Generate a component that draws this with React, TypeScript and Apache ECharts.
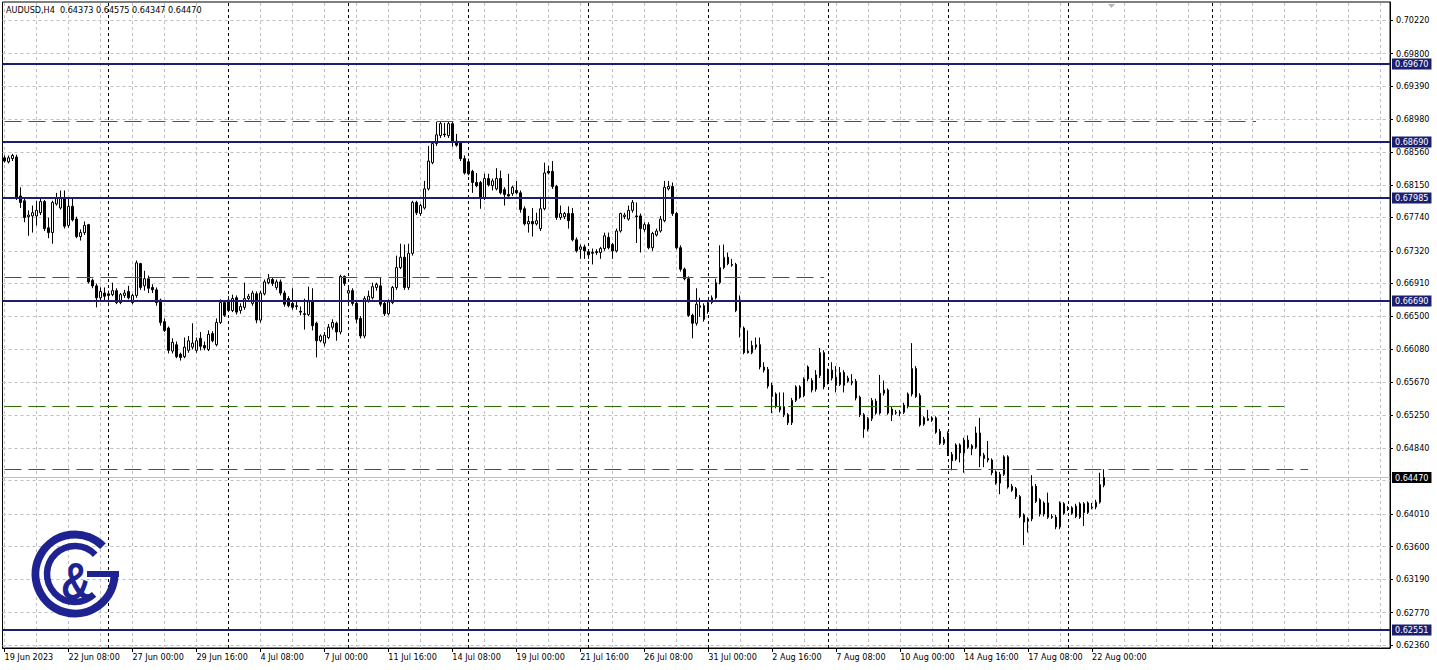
import React, { useEffect, useRef } from "react";
import * as echarts from "echarts";

// ---- data (AUDUSD, H4) ----
const openP = [
  0.6849, 0.6844, 0.6848, 0.6850, 0.6801, 0.6795, 0.6775, 0.6776, 0.6776, 0.6780,
  0.6794, 0.6761, 0.6755, 0.6791, 0.6786, 0.6799, 0.6764, 0.6788, 0.6772, 0.6750,
  0.6755, 0.6765, 0.6695, 0.6688, 0.6673, 0.6679, 0.6678, 0.6677, 0.6682, 0.6667,
  0.6676, 0.6681, 0.6667, 0.6676, 0.6716, 0.6688, 0.6697, 0.6686, 0.6683, 0.6670,
  0.6643, 0.6635, 0.6606, 0.6614, 0.6602, 0.6599, 0.6607, 0.6611, 0.6607, 0.6622,
  0.6613, 0.6608, 0.6628, 0.6614, 0.6642, 0.6667, 0.6670, 0.6657, 0.6673, 0.6657,
  0.6661, 0.6672, 0.6666, 0.6678, 0.6645, 0.6678, 0.6692, 0.6696, 0.6686, 0.6693,
  0.6679, 0.6672, 0.6666, 0.6663, 0.6656, 0.6653, 0.6652, 0.6668, 0.6641, 0.6619,
  0.6616, 0.6623, 0.6636, 0.6641, 0.6630, 0.6700, 0.6679, 0.6682, 0.6666, 0.6647,
  0.6625, 0.6670, 0.6673, 0.6686, 0.6688, 0.6666, 0.6653, 0.6667, 0.6686, 0.6711,
  0.6724, 0.6686, 0.6729, 0.6793, 0.6779, 0.6786, 0.6810, 0.6843, 0.6867, 0.6877,
  0.6879, 0.6877, 0.6892, 0.6870, 0.6868, 0.6848, 0.6844, 0.6832, 0.6818, 0.6818,
  0.6799, 0.6823, 0.6814, 0.6810, 0.6823, 0.6809, 0.6803, 0.6804, 0.6808, 0.6805,
  0.6785, 0.6766, 0.6769, 0.6766, 0.6760, 0.6785, 0.6832, 0.6832, 0.6813, 0.6774,
  0.6775, 0.6779, 0.6779, 0.6746, 0.6734, 0.6737, 0.6731, 0.6730, 0.6731, 0.6730,
  0.6735, 0.6749, 0.6740, 0.6732, 0.6757, 0.6775, 0.6772, 0.6783, 0.6776, 0.6776,
  0.6759, 0.6765, 0.6736, 0.6752, 0.6757, 0.6770, 0.6810, 0.6813, 0.6779, 0.6736,
  0.6709, 0.6697, 0.6651, 0.6641, 0.6663, 0.6663, 0.6656, 0.6667, 0.6673, 0.6692,
  0.6711, 0.6724, 0.6715, 0.6715, 0.6670, 0.6635, 0.6606, 0.6604, 0.6611, 0.6614,
  0.6586, 0.6583, 0.6563, 0.6552, 0.6536, 0.6536, 0.6526, 0.6516, 0.6544, 0.6561,
  0.6550, 0.6571, 0.6569, 0.6558, 0.6575, 0.6604, 0.6567, 0.6582, 0.6573, 0.6564,
  0.6579, 0.6568, 0.6566, 0.6568, 0.6548, 0.6526, 0.6508, 0.6521, 0.6543, 0.6528,
  0.6553, 0.6557, 0.6533, 0.6528, 0.6529, 0.6529, 0.6537, 0.6552, 0.6584, 0.6550,
  0.6514, 0.6521, 0.6522, 0.6522, 0.6505, 0.6490, 0.6503, 0.6476, 0.6470, 0.6488,
  0.6478, 0.6494, 0.6483, 0.6485, 0.6503, 0.6475, 0.6471, 0.6469, 0.6454, 0.6440,
  0.6451, 0.6473, 0.6436, 0.6433, 0.6423, 0.6400, 0.6392, 0.6395, 0.6436, 0.6419,
  0.6401, 0.6415, 0.6398, 0.6397, 0.6385, 0.6414, 0.6409, 0.6409, 0.6398, 0.6397,
  0.6414, 0.6403, 0.6410, 0.6410, 0.6416, 0.64373,
];
const closeP = [
  0.6845, 0.6849, 0.6852, 0.6799, 0.6793, 0.6774, 0.6777, 0.6780, 0.6783, 0.6794,
  0.6760, 0.6755, 0.6793, 0.6798, 0.6799, 0.6763, 0.6788, 0.6771, 0.6750, 0.6755,
  0.6764, 0.6693, 0.6688, 0.6673, 0.6681, 0.6675, 0.6676, 0.6682, 0.6667, 0.6677,
  0.6679, 0.6673, 0.6676, 0.6717, 0.6686, 0.6697, 0.6685, 0.6683, 0.6667, 0.6642,
  0.6632, 0.6607, 0.6617, 0.6599, 0.6598, 0.6611, 0.6619, 0.6616, 0.6619, 0.6612,
  0.6610, 0.6627, 0.6619, 0.6642, 0.6667, 0.6651, 0.6657, 0.6672, 0.6655, 0.6662,
  0.6672, 0.6675, 0.6679, 0.6645, 0.6679, 0.6693, 0.6697, 0.6691, 0.6693, 0.6679,
  0.6665, 0.6663, 0.6661, 0.6662, 0.6655, 0.6652, 0.6668, 0.6638, 0.6619, 0.6625,
  0.6626, 0.6636, 0.6642, 0.6630, 0.6700, 0.6691, 0.6682, 0.6666, 0.6646, 0.6625,
  0.6672, 0.6675, 0.6687, 0.6690, 0.6665, 0.6653, 0.6668, 0.6686, 0.6711, 0.6724,
  0.6686, 0.6729, 0.6793, 0.6780, 0.6789, 0.6810, 0.6845, 0.6867, 0.6878, 0.6892,
  0.6878, 0.6892, 0.6870, 0.6865, 0.6848, 0.6830, 0.6829, 0.6818, 0.6814, 0.6799,
  0.6823, 0.6815, 0.6820, 0.6823, 0.6805, 0.6803, 0.6801, 0.6812, 0.6805, 0.6784,
  0.6766, 0.6769, 0.6766, 0.6770, 0.6785, 0.6830, 0.6830, 0.6813, 0.6774, 0.6779,
  0.6779, 0.6770, 0.6746, 0.6732, 0.6737, 0.6732, 0.6727, 0.6729, 0.6730, 0.6735,
  0.6751, 0.6736, 0.6732, 0.6757, 0.6779, 0.6777, 0.6783, 0.6793, 0.6775, 0.6760,
  0.6765, 0.6736, 0.6754, 0.6757, 0.6772, 0.6812, 0.6813, 0.6779, 0.6736, 0.6709,
  0.6697, 0.6651, 0.6641, 0.6665, 0.6661, 0.6646, 0.6667, 0.6673, 0.6692, 0.6711,
  0.6724, 0.6716, 0.6714, 0.6657, 0.6636, 0.6604, 0.6604, 0.6613, 0.6614, 0.6586,
  0.6582, 0.6562, 0.6549, 0.6537, 0.6532, 0.6526, 0.6516, 0.6544, 0.6561, 0.6548,
  0.6571, 0.6586, 0.6557, 0.6576, 0.6604, 0.6561, 0.6582, 0.6572, 0.6563, 0.6579,
  0.6563, 0.6572, 0.6568, 0.6547, 0.6526, 0.6508, 0.6521, 0.6544, 0.6528, 0.6553,
  0.6557, 0.6528, 0.6526, 0.6529, 0.6528, 0.6538, 0.6552, 0.6584, 0.6549, 0.6513,
  0.6522, 0.6519, 0.6519, 0.6504, 0.6490, 0.6495, 0.6476, 0.6468, 0.6488, 0.6478,
  0.6494, 0.6485, 0.6487, 0.6503, 0.6474, 0.6471, 0.6469, 0.6453, 0.6440, 0.6451,
  0.6473, 0.6435, 0.6431, 0.6423, 0.6398, 0.6391, 0.6395, 0.6436, 0.6417, 0.6401,
  0.6415, 0.6397, 0.6397, 0.6385, 0.6415, 0.6402, 0.6407, 0.6402, 0.6411, 0.6414,
  0.6403, 0.6415, 0.6409, 0.6416, 0.6438, 0.64470,
];
const lowP = [
  0.6843, 0.6842, 0.6845, 0.6796, 0.6786, 0.6768, 0.6751, 0.6755, 0.6764, 0.6777,
  0.6757, 0.6748, 0.6741, 0.6789, 0.6784, 0.6760, 0.6761, 0.6769, 0.6748, 0.6745,
  0.6752, 0.6691, 0.6685, 0.6661, 0.6670, 0.6670, 0.6667, 0.6675, 0.6665, 0.6665,
  0.6673, 0.6671, 0.6665, 0.6673, 0.6683, 0.6682, 0.6679, 0.6679, 0.6663, 0.6638,
  0.6630, 0.6603, 0.6603, 0.6597, 0.6594, 0.6597, 0.6604, 0.6608, 0.6604, 0.6607,
  0.6607, 0.6606, 0.6617, 0.6612, 0.6640, 0.6649, 0.6655, 0.6655, 0.6652, 0.6653,
  0.6658, 0.6670, 0.6663, 0.6641, 0.6642, 0.6676, 0.6690, 0.6688, 0.6683, 0.6676,
  0.6662, 0.6661, 0.6658, 0.6658, 0.6651, 0.6633, 0.6650, 0.6632, 0.6598, 0.6617,
  0.6612, 0.6621, 0.6633, 0.6619, 0.6627, 0.6688, 0.6666, 0.6663, 0.6641, 0.6622,
  0.6622, 0.6667, 0.6671, 0.6682, 0.6662, 0.6650, 0.6651, 0.6665, 0.6683, 0.6709,
  0.6683, 0.6683, 0.6726, 0.6777, 0.6776, 0.6784, 0.6808, 0.6841, 0.6864, 0.6874,
  0.6875, 0.6874, 0.6863, 0.6863, 0.6845, 0.6828, 0.6827, 0.6805, 0.6812, 0.6785,
  0.6796, 0.6813, 0.6808, 0.6808, 0.6803, 0.6789, 0.6800, 0.6801, 0.6803, 0.6780,
  0.6764, 0.6755, 0.6750, 0.6764, 0.6757, 0.6783, 0.6828, 0.6810, 0.6771, 0.6771,
  0.6772, 0.6760, 0.6744, 0.6730, 0.6722, 0.6722, 0.6722, 0.6715, 0.6727, 0.6722,
  0.6732, 0.6734, 0.6722, 0.6730, 0.6755, 0.6772, 0.6770, 0.6780, 0.6742, 0.6730,
  0.6756, 0.6734, 0.6732, 0.6750, 0.6755, 0.6768, 0.6808, 0.6776, 0.6734, 0.6706,
  0.6695, 0.6649, 0.6622, 0.6638, 0.6649, 0.6643, 0.6653, 0.6665, 0.6671, 0.6690,
  0.6709, 0.6714, 0.6712, 0.6655, 0.6623, 0.6602, 0.6603, 0.6602, 0.6608, 0.6583,
  0.6579, 0.6559, 0.6528, 0.6534, 0.6529, 0.6523, 0.6513, 0.6513, 0.6542, 0.6546,
  0.6548, 0.6568, 0.6554, 0.6555, 0.6572, 0.6558, 0.6564, 0.6569, 0.6554, 0.6562,
  0.6554, 0.6566, 0.6563, 0.6544, 0.6523, 0.6497, 0.6505, 0.6518, 0.6526, 0.6526,
  0.6550, 0.6526, 0.6518, 0.6526, 0.6524, 0.6527, 0.6534, 0.6549, 0.6547, 0.6511,
  0.6512, 0.6518, 0.6517, 0.6502, 0.6488, 0.6488, 0.6474, 0.6456, 0.6468, 0.6466,
  0.6453, 0.6483, 0.6475, 0.6483, 0.6460, 0.6460, 0.6466, 0.6450, 0.6438, 0.6426,
  0.6449, 0.6433, 0.6429, 0.6420, 0.6396, 0.6362, 0.6378, 0.6392, 0.6415, 0.6398,
  0.6398, 0.6395, 0.6395, 0.6382, 0.6382, 0.6400, 0.6405, 0.6400, 0.6396, 0.6395,
  0.6386, 0.6401, 0.6407, 0.6407, 0.6414, 0.64347,
];
const highP = [
  0.6852, 0.6852, 0.6854, 0.6853, 0.6812, 0.6798, 0.6783, 0.6789, 0.6795, 0.6798,
  0.6796, 0.6774, 0.6795, 0.6805, 0.6808, 0.6808, 0.6798, 0.6799, 0.6775, 0.6759,
  0.6769, 0.6766, 0.6697, 0.6691, 0.6686, 0.6686, 0.6682, 0.6692, 0.6685, 0.6679,
  0.6683, 0.6688, 0.6678, 0.6720, 0.6717, 0.6707, 0.6701, 0.6690, 0.6686, 0.6672,
  0.6647, 0.6637, 0.6622, 0.6618, 0.6604, 0.6623, 0.6625, 0.6641, 0.6623, 0.6630,
  0.6618, 0.6632, 0.6631, 0.6647, 0.6671, 0.6670, 0.6675, 0.6677, 0.6676, 0.6666,
  0.6692, 0.6678, 0.6682, 0.6681, 0.6682, 0.6696, 0.6703, 0.6698, 0.6696, 0.6696,
  0.6682, 0.6675, 0.6685, 0.6670, 0.6662, 0.6672, 0.6687, 0.6685, 0.6643, 0.6627,
  0.6630, 0.6640, 0.6646, 0.6643, 0.6702, 0.6701, 0.6686, 0.6685, 0.6668, 0.6650,
  0.6675, 0.6682, 0.6692, 0.6692, 0.6698, 0.6668, 0.6671, 0.6688, 0.6726, 0.6741,
  0.6740, 0.6741, 0.6795, 0.6795, 0.6791, 0.6820, 0.6864, 0.6869, 0.6894, 0.6894,
  0.6893, 0.6894, 0.6894, 0.6879, 0.6870, 0.6852, 0.6848, 0.6834, 0.6830, 0.6820,
  0.6829, 0.6829, 0.6823, 0.6836, 0.6833, 0.6812, 0.6829, 0.6814, 0.6820, 0.6808,
  0.6788, 0.6776, 0.6786, 0.6780, 0.6800, 0.6843, 0.6839, 0.6845, 0.6815, 0.6789,
  0.6781, 0.6788, 0.6786, 0.6749, 0.6740, 0.6740, 0.6734, 0.6735, 0.6734, 0.6737,
  0.6755, 0.6755, 0.6742, 0.6760, 0.6780, 0.6780, 0.6789, 0.6796, 0.6793, 0.6779,
  0.6768, 0.6768, 0.6756, 0.6760, 0.6776, 0.6820, 0.6820, 0.6818, 0.6781, 0.6739,
  0.6711, 0.6700, 0.6653, 0.6685, 0.6673, 0.6666, 0.6670, 0.6676, 0.6697, 0.6739,
  0.6740, 0.6730, 0.6722, 0.6717, 0.6676, 0.6637, 0.6632, 0.6619, 0.6623, 0.6623,
  0.6592, 0.6586, 0.6566, 0.6554, 0.6554, 0.6554, 0.6528, 0.6547, 0.6563, 0.6563,
  0.6573, 0.6588, 0.6572, 0.6582, 0.6610, 0.6607, 0.6584, 0.6592, 0.6587, 0.6586,
  0.6582, 0.6575, 0.6577, 0.6571, 0.6550, 0.6528, 0.6523, 0.6547, 0.6546, 0.6576,
  0.6569, 0.6559, 0.6536, 0.6532, 0.6532, 0.6541, 0.6554, 0.6616, 0.6587, 0.6553,
  0.6524, 0.6532, 0.6524, 0.6524, 0.6508, 0.6498, 0.6505, 0.6479, 0.6490, 0.6490,
  0.6497, 0.6500, 0.6489, 0.6511, 0.6522, 0.6478, 0.6493, 0.6471, 0.6456, 0.6454,
  0.6475, 0.6475, 0.6439, 0.6435, 0.6425, 0.6402, 0.6397, 0.6450, 0.6439, 0.6421,
  0.6417, 0.6428, 0.6401, 0.6400, 0.6417, 0.6416, 0.6411, 0.6411, 0.6414, 0.6416,
  0.6416, 0.6417, 0.6415, 0.6419, 0.6453, 0.64575,
];

const timeLabels = [
  "19 Jun 2023", "22 Jun 08:00", "27 Jun 00:00", "29 Jun 16:00", "4 Jul 08:00",
  "7 Jul 00:00", "11 Jul 16:00", "14 Jul 08:00", "19 Jul 00:00", "21 Jul 16:00",
  "26 Jul 08:00", "31 Jul 00:00", "2 Aug 16:00", "7 Aug 08:00", "10 Aug 00:00",
  "14 Aug 16:00", "17 Aug 08:00", "22 Aug 00:00",
];
const LABEL_STEP = 16; // bars between time labels
const GRID_STEP = 8; // bars between vertical grid lines
const TOTAL_SLOTS = 347; // visible bar slots incl. right shift
const weekSeparators = [26, 56, 86, 116, 146, 176, 206, 236, 266, 302];

const gridPrices = [
  0.7022, 0.698, 0.6939, 0.6898, 0.6856, 0.6815, 0.6774, 0.6732, 0.6691, 0.665,
  0.6608, 0.6567, 0.6525, 0.6484, 0.6443, 0.6401, 0.636, 0.6319, 0.6277, 0.6236,
];
const axisLabelPrices = [
  0.7022, 0.698, 0.6939, 0.6898, 0.6856, 0.6815, 0.6774, 0.6732, 0.6691, 0.665,
  0.6608, 0.6567, 0.6525, 0.6484, 0.6401, 0.636, 0.6319, 0.6277, 0.6236,
];
const Y_MIN = 0.62326;
const Y_MAX = 0.7045;

const levelLines = [0.6967, 0.6869, 0.67985, 0.6669, 0.62551];
const dashedValues = [0.68956, 0.66984, 0.65365, 0.6536, 0.6457];
const dashedFrom = [0, 0, 0, 160, 0];
const dashedTo = [313, 205, 160, 320, 326];
const bidPrice = 0.6447;

const FONT = '"DejaVu Sans Condensed", "Liberation Sans", sans-serif';
const NAVY = "#1b1f72";
const LOGO = "#1f2391";
const GREEN = "#2e6f08";

export default function App() {
  const ref = useRef<HTMLDivElement>(null);

  useEffect(() => {
    if (!ref.current) return;
    const chart = echarts.init(ref.current, null, { renderer: "svg" });

    const slots = Array.from({ length: TOTAL_SLOTS }, (_, i) => String(i));
    const candles = openP.map((o, i) => [o, closeP[i], lowP[i], highP[i]]);
    const lastIdx = openP.length - 1;
    const labelIdx = (i: number) => i % LABEL_STEP === 0 && i / LABEL_STEP < timeLabels.length;

    const vGrid: any[] = [];
    for (let i = 0; i < TOTAL_SLOTS; i += GRID_STEP) vGrid.push({ xAxis: i });
    const hGrid = gridPrices.map((v) => ({ yAxis: v }));

    const title = `AUDUSD,H4  ${openP[lastIdx].toFixed(5)} ${highP[lastIdx].toFixed(5)} ${lowP[lastIdx].toFixed(5)} ${closeP[lastIdx].toFixed(5)}`;

    const hidden = {
      type: "line",
      data: closeP,
      showSymbol: false,
      symbol: "none",
      lineStyle: { opacity: 0 },
      silent: true,
    };

    chart.setOption({
      animation: false,
      backgroundColor: "#ffffff",
      textStyle: { fontFamily: FONT },
      grid: {
        left: 2.5,
        right: 47,
        top: 2,
        bottom: 22,
        show: true,
        borderColor: "#000",
        borderWidth: 1,
        backgroundColor: "#fff",
      },
      xAxis: {
        type: "category",
        data: slots,
        boundaryGap: true,
        axisLine: { show: true, lineStyle: { color: "#000", width: 1 } },
        axisTick: {
          show: true,
          alignWithLabel: true,
          interval: (i: number) => labelIdx(i),
          length: 4,
          lineStyle: { color: "#000" },
        },
        axisLabel: {
          interval: (i: number) => labelIdx(i),
          formatter: (_v: string, i: number) => timeLabels[i / LABEL_STEP] ?? "",
          align: "left",
          fontSize: 9,
          fontFamily: FONT,
          color: "#000",
          margin: 4,
        },
        splitLine: { show: false },
      },
      yAxis: {
        type: "value",
        position: "right",
        min: Y_MIN,
        max: Y_MAX,
        scale: true,
        splitLine: { show: false },
        axisLine: { show: true, lineStyle: { color: "#000", width: 1 } },
        axisTick: {
          show: true,
          customValues: axisLabelPrices,
          length: 3,
          lineStyle: { color: "#000" },
        },
        axisLabel: {
          customValues: axisLabelPrices,
          formatter: (v: number) => v.toFixed(5),
          fontSize: 9,
          fontFamily: FONT,
          color: "#000",
          margin: 6,
        },
      },
      series: [
        {
          type: "candlestick",
          name: "AUDUSD",
          data: candles,
          z: 3,
          barWidth: 2,
          itemStyle: {
            color: "#ffffff",
            color0: "#000000",
            borderColor: "#000000",
            borderColor0: "#000000",
            borderColorDoji: "#000000",
            borderWidth: 1,
          },
          markLine: {
            silent: true,
            z: 1,
            precision: 6,
            symbol: ["none", "none"],
            label: { show: false },
            lineStyle: { type: [3, 3], color: "#bfbfbf", width: 1 },
            data: [...vGrid, ...hGrid],
          },
        },
        {
          ...hidden,
          name: "separators",
          z: 2,
          markLine: {
            silent: true,
            z: 2,
            precision: 6,
            symbol: ["none", "none"],
            label: { show: false },
            data: [
              ...weekSeparators.map((i) => ({
                xAxis: i,
                lineStyle: { type: [3, 3], color: "#000", width: 1 },
              })),
              {
                yAxis: bidPrice,
                lineStyle: { type: "solid", color: "#bdbdbd", width: 1 },
                label: {
                  show: true,
                  position: "end",
                  distance: 2,
                  formatter: bidPrice.toFixed(5),
                  backgroundColor: "#000",
                  color: "#fff",
                  fontSize: 9,
                  fontFamily: FONT,
                  padding: [1, 3, 1, 3],
                },
              },
            ],
          },
        },
        {
          ...hidden,
          name: "levels",
          z: 6,
          markLine: {
            silent: true,
            z: 6,
            precision: 6,
            symbol: ["none", "none"],
            data: [
              ...dashedValues.map((v, k) => [
                {
                  coord: [dashedFrom[k], v],
                  lineStyle: { type: [17, 7], color: GREEN, width: 1 },
                  label: { show: false },
                },
                { coord: [dashedTo[k], v] },
              ]),
              ...levelLines.map((v) => ({
                yAxis: v,
                lineStyle: { type: "solid", color: NAVY, width: 2 },
                label: {
                  show: true,
                  position: "end",
                  distance: 2,
                  formatter: v.toFixed(5),
                  backgroundColor: NAVY,
                  color: "#fff",
                  fontSize: 9,
                  fontFamily: FONT,
                  padding: [1, 3, 1, 3],
                },
              })),
            ],
          },
        },
      ],
      graphic: [
        {
          type: "text",
          left: 6,
          top: 5,
          z: 100,
          style: { text: title, font: `9px ${FONT}`, fill: "#000" },
        },
        {
          type: "polygon",
          z: 100,
          shape: { points: [[1108, 4], [1115, 4], [1111.5, 8]] },
          style: { fill: "#b5b5b5" },
        },
        {
          type: "arc",
          z: 100,
          shape: { cx: 75, cy: 574, r: 39.5, startAngle: 0, endAngle: 5.5, clockwise: true },
          style: { stroke: LOGO, lineWidth: 8, fill: "none" },
        },
        {
          type: "arc",
          z: 100,
          shape: { cx: 75, cy: 574, r: 28, startAngle: 0.82, endAngle: 5.52, clockwise: true },
          style: { stroke: LOGO, lineWidth: 6.5, fill: "none" },
        },
        {
          type: "rect",
          z: 100,
          shape: { x: 87, y: 571, width: 32, height: 6 },
          style: { fill: LOGO },
        },
        {
          type: "text",
          z: 100,
          x: 76,
          y: 581,
          scaleX: 0.8,
          style: {
            text: "&",
            font: 'bold 52px "Liberation Sans", sans-serif',
            fill: LOGO,
            align: "center",
            verticalAlign: "middle",
          },
        },
      ],
    });

    return () => chart.dispose();
  }, []);

  return (
    <div
      ref={ref}
      style={{ position: "fixed", left: 0, top: 0, width: 1437, height: 670, background: "#fff" }}
    />
  );
}
